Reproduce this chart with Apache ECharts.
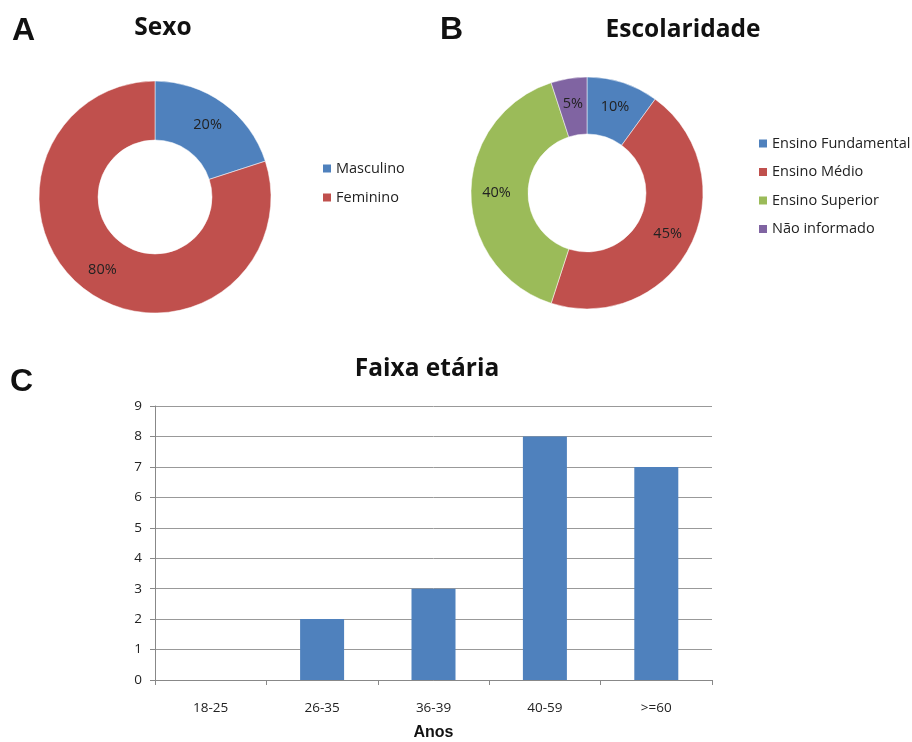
<!DOCTYPE html>
<html>
<head>
<meta charset="utf-8">
<script src="https://cdn.jsdelivr.net/npm/echarts@6/dist/echarts.min.js"></script>
<style>
  html, body { margin: 0; padding: 0; background: #fff; }
  #chart { width: 912px; height: 742px; }
</style>
</head>
<body>
<div id="chart"></div>
<script>
// Panel A: sex
const sexoNames = ['Masculino', 'Feminino'];
const sexoValues = [20, 80];
// Panel B: schooling
const escolaridadeNames = ['Ensino Fundamental', 'Ensino Médio', 'Ensino Superior', 'Não informado'];
const escolaridadeValues = [10, 45, 40, 5];
// Panel C: age group
const faixaCategorias = ['18-25', '26-35', '36-39', '40-59', '>=60'];
const faixaValores = [0, 2, 3, 8, 7];
const yTicks = [0, 1, 2, 3, 4, 5, 6, 7, 8, 9];

const colors = ['#4F81BD', '#C0504D', '#9BBB59', '#8064A2'];
const bodyFont = '"Open Sans", "Noto Sans", sans-serif';
const letterFont = '"Liberation Sans", Arial, sans-serif';

const chart = echarts.init(document.getElementById('chart'));

function pieData(names, values) {
  return names.map((n, i) => ({ name: n, value: values[i], itemStyle: { color: colors[i] } }));
}

const pieCommon = {
  type: 'pie',
  startAngle: 90,
  clockwise: true,
  avoidLabelOverlap: false,
  silent: true,
  label: {
    show: true,
    position: 'inside',
    formatter: '{c}%',
    color: '#222',
    fontSize: 14.5,
    fontFamily: bodyFont
  },
  labelLine: { show: false },
  itemStyle: { borderColor: '#fff', borderWidth: 0.5 }
};

const letterStyle = { fontSize: 32, fontWeight: 'bold', color: '#111', fontFamily: letterFont };
const titleStyle = { fontSize: 24.5, fontWeight: 'bold', color: '#111', fontFamily: bodyFont };
const legendText = { fontSize: 14.5, color: '#222', fontFamily: bodyFont, lineHeight: 17, padding: [0, 0, 0, -1] };

chart.setOption({
  backgroundColor: '#fff',
  animation: false,
  title: [
    { text: 'A', left: 7, top: 10, textStyle: letterStyle },
    { text: 'B', left: 435, top: 9, textStyle: letterStyle },
    { text: 'C', left: 5, top: 361, textStyle: letterStyle },
    { text: 'Sexo', left: 158, top: 11, textAlign: 'center', textStyle: titleStyle },
    { text: 'Escolaridade', left: 678, top: 13, textAlign: 'center', textStyle: titleStyle },
    { text: 'Faixa etária', left: 422, top: 352, textAlign: 'center', textStyle: titleStyle }
  ],
  legend: [
    {
      data: sexoNames, orient: 'vertical', left: 316, top: 155,
      icon: 'rect', itemWidth: 10, itemHeight: 10, itemGap: 12,
      textStyle: legendText,
      selectedMode: false
    },
    {
      data: escolaridadeNames, orient: 'vertical', left: 752, top: 130,
      icon: 'rect', itemWidth: 10, itemHeight: 10, itemGap: 11.5,
      textStyle: legendText,
      selectedMode: false
    }
  ],
  grid: { left: 155, right: 200, top: 406, bottom: 62, containLabel: false, outerBoundsMode: 'none' },
  xAxis: {
    type: 'category',
    data: faixaCategorias,
    name: 'Anos',
    nameLocation: 'middle',
    nameGap: 45,
    nameTextStyle: { fontSize: 16, fontWeight: 'bold', color: '#111', fontFamily: letterFont },
    axisLine: { lineStyle: { color: '#888', width: 1 } },
    axisTick: { show: true, length: 5, lineStyle: { color: '#888' } },
    axisLabel: { fontSize: 13.5, color: '#222', margin: 21, fontFamily: bodyFont },
  },
  yAxis: {
    type: 'value',
    min: yTicks[0],
    max: yTicks[yTicks.length - 1],
    interval: 1,
    axisLine: { show: true, lineStyle: { color: '#888', width: 1 } },
    axisTick: { show: true, length: 5, lineStyle: { color: '#888' } },
    axisLabel: { fontSize: 13.5, color: '#222', margin: 13, fontFamily: bodyFont },
    splitLine: { lineStyle: { color: '#999', width: 1 } }
  },
  series: [
    Object.assign({}, pieCommon, {
      name: 'Sexo',
      center: [155, 197],
      radius: [57, 116],
      data: pieData(sexoNames, sexoValues)
    }),
    Object.assign({}, pieCommon, {
      name: 'Escolaridade',
      center: [587, 193],
      radius: [59, 116],
      data: pieData(escolaridadeNames, escolaridadeValues)
    }),
    {
      name: 'Faixa etária',
      type: 'bar',
      data: faixaValores,
      barWidth: 44,
      itemStyle: { color: '#4F81BD' },
      silent: true
    }
  ]
});
</script>
</body>
</html>
